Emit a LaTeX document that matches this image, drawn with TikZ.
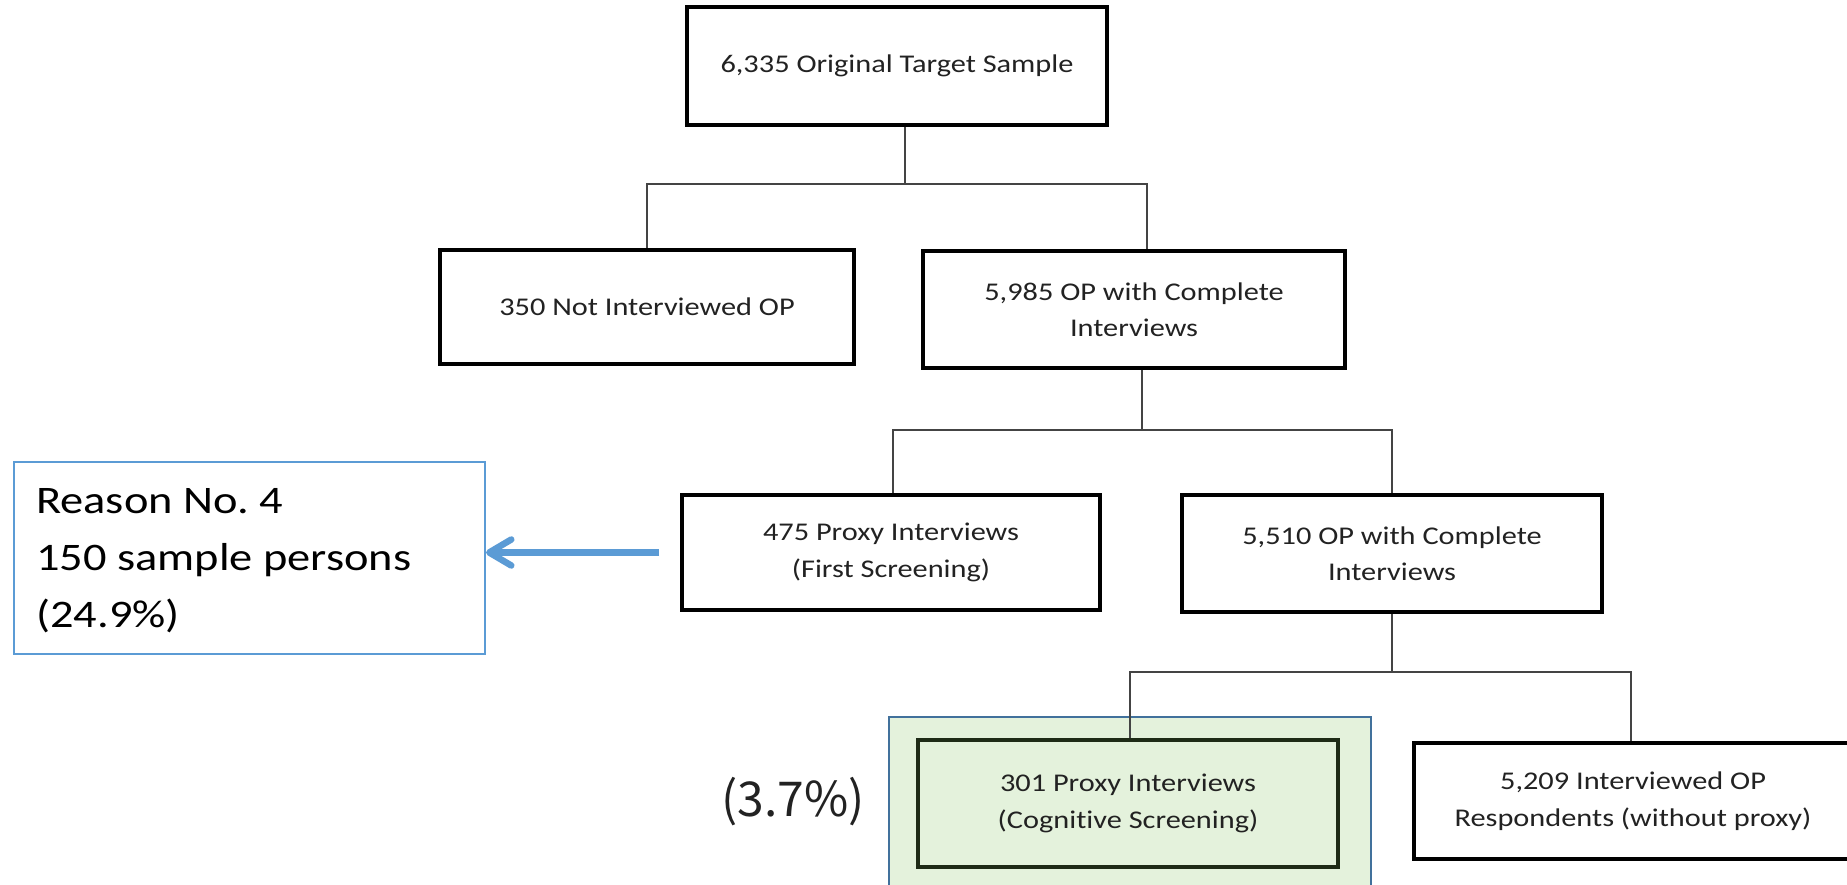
\documentclass[tikz,border=0pt]{standalone}
\usepackage{fontspec}
\usetikzlibrary{arrows.meta}
\newfontfamily\cfont[FakeStretch=1.19,Ligatures=NoCommon]{Carlito}
\newfontfamily\jpfont{Noto Sans CJK JP}
\definecolor{textc}{HTML}{222222}
\definecolor{connc}{HTML}{444444}
\definecolor{accblue}{HTML}{5B9BD5}
\definecolor{hlfill}{HTML}{E4F2DC}
\definecolor{hlborder}{HTML}{41719C}
\definecolor{innerc}{HTML}{1E2B16}
\newcommand{\boxtxt}{\cfont\fontsize{25.5}{36.5}\selectfont}
\tikzset{
  flowbox/.style={draw=black, line width=4pt, inner sep=0pt, align=center,
    font=\boxtxt, text=textc},
  conn/.style={draw=connc, line width=1.6pt},
  callout/.style={draw=accblue, line width=2pt},
  bluearrow/.style={draw=accblue, line width=6.5pt,
    -{Straight Barb[length=22pt,width=26pt,round]}}
}
\begin{document}
\begin{tikzpicture}[x=1pt,y=-1pt]
\useasboundingbox (0,0) rectangle (1847,885);
\fill[white] (0,0) rectangle (1847,885);
\clip (0,0) rectangle (1847,885);

% highlight frame
\draw[fill=hlfill, draw=hlborder, line width=2pt] (889,717) rectangle (1371,900);

% boxes
\node[flowbox, minimum width=420pt, minimum height=118pt] (top) at (897,66) {6,335 Original Target Sample};
\node[flowbox, minimum width=414pt, minimum height=114pt] (n350) at (647,307) {350 Not Interviewed OP};
\node[flowbox, minimum width=422pt, minimum height=117pt] (n5985) at (1134,309.5) {5,985 OP with Complete\\Interviews};
\node[flowbox, minimum width=418pt, minimum height=115pt] (n475) at (891,552.5) {475 Proxy Interviews\\(First Screening)};
\node[flowbox, minimum width=420pt, minimum height=117pt] (n5510) at (1392,553.5) {5,510 OP with Complete\\Interviews};
\node[flowbox, draw=innerc, line width=3.5pt, minimum width=420pt, minimum height=127pt] (n301) at (1128,803.5) {301 Proxy Interviews\\(Cognitive Screening)};
\node[flowbox, minimum width=438pt, minimum height=116pt] (n5209) at (1633,801) {5,209 Interviewed OP\\Respondents (without proxy)};

% callout
\node[callout, minimum width=471pt, minimum height=192pt, inner sep=0pt] (reasonbox) at (249.5,558) {};
\node[anchor=west, align=left, inner sep=0pt, text=black,
  font={\cfont\fontsize{39}{57}\selectfont}] (reason) at (36,561)
  {Reason No.\ 4\\150 sample persons\\(24.9\%)};

% percentage
\node[anchor=base, inner sep=0pt, text=textc, font={\jpfont\fontsize{48}{52}\selectfont}] (pct) at (793,816) {(3.7\%)};

% junctions
\coordinate (b1) at (905,184);
\coordinate (b1l) at (647,184);
\coordinate (b1r) at (1147,184);
\coordinate (b2) at (1142,430);
\coordinate (b2l) at (893,430);
\coordinate (b2r) at (1392,430);
\coordinate (b3) at (1392,672);
\coordinate (b3l) at (1130,672);
\coordinate (b3r) at (1631,672);

% connectors
\draw[conn] (top.south -| b1) -- (b1);
\draw[conn] (n350.north -| b1l) -- (b1l) -- (b1r) -- (n5985.north -| b1r);
\draw[conn] (n5985.south -| b2) -- (b2);
\draw[conn] (n475.north -| b2l) -- (b2l) -- (b2r) -- (n5510.north -| b2r);
\draw[conn] (n5510.south -| b3) -- (b3);
\draw[conn] (n301.north -| b3l) -- (b3l) -- (b3r) -- (n5209.north -| b3r);

% arrow
\draw[bluearrow, shorten <=21pt] (n475.west) -- (reasonbox.east |- n475.west);
\end{tikzpicture}
\end{document}
